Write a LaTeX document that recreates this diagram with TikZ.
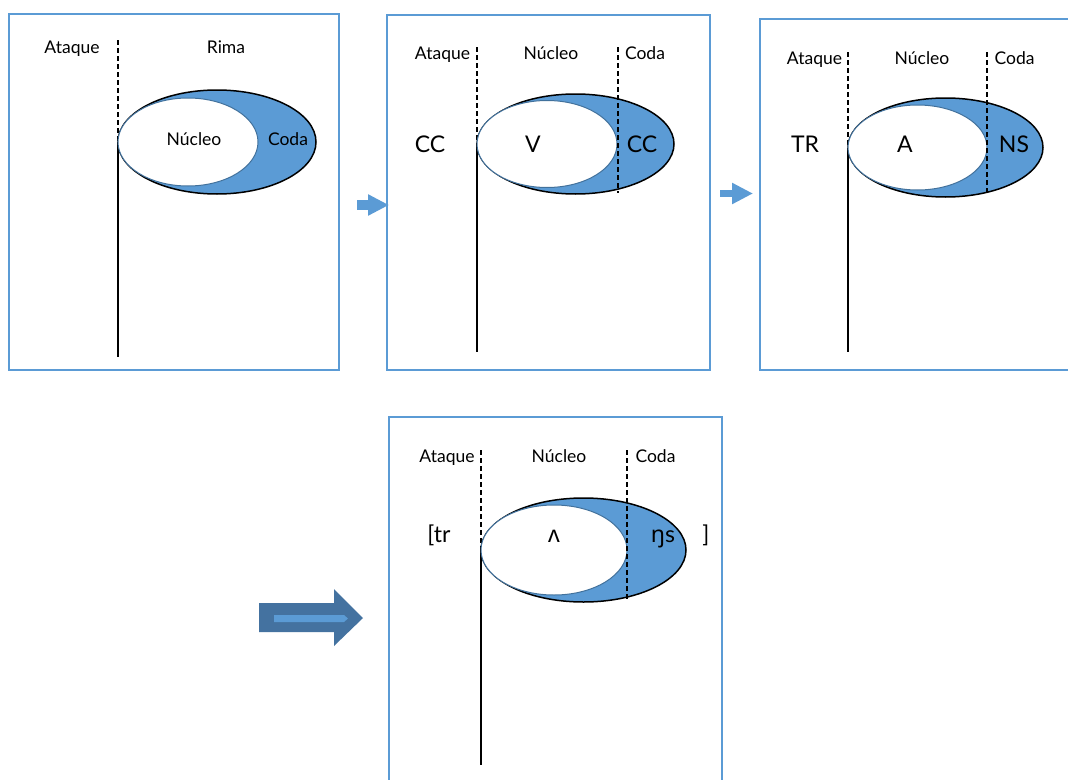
\documentclass[tikz,border=0pt]{standalone}
\usepackage{fontspec}
\setmainfont{Lato}
\newfontfamily\ipafont{Noto Sans}
\usetikzlibrary{arrows.meta}
\definecolor{frameblue}{RGB}{91,155,213}
\definecolor{codafill}{RGB}{91,155,213}
\definecolor{nucedge}{RGB}{65,113,156}
\definecolor{bigblue}{RGB}{68,114,160}
\tikzset{
  panel/.style={draw=frameblue, line width=2pt, fill=white, inner sep=0pt},
  lbl/.style={font=\fontsize{17.5}{20}\selectfont, inner sep=0pt, anchor=base},
  seg/.style={font=\fontsize{23}{26}\selectfont, inner sep=0pt, anchor=base},
  tier/.style={line width=1.3pt, black},
  tierdash/.style={line width=1.3pt, black, dash pattern=on 5pt off 3pt},
  rima/.style={draw=black, line width=1.5pt, fill=codafill},
  nucleo/.style={draw=nucedge, line width=1pt, fill=white},
  stepshaft/.style={draw=frameblue, -{Triangle[length=21pt,width=20pt]}},
}
\begin{document}
\begin{tikzpicture}[x=1pt,y=-1pt]
\clip (0,0) rectangle (1068,779);
\fill[white] (0,0) rectangle (1068,779);

% ---------- panel frames ----------
\node[panel, minimum width=330pt, minimum height=356pt] (p1) at (174,192) {};
\node[panel, minimum width=323pt, minimum height=355pt] (p2) at (548.5,192.5) {};
\node[panel, minimum width=335pt, minimum height=351pt] (p3) at (927.5,194.5) {};
\node[panel, minimum width=333pt, minimum height=383pt] (p4) at (555.5,608.5) {};

% ---------- panel 1: Ataque / Rima ----------
\coordinate (t1) at (118,40);
\coordinate (m1) at (118,142);
\coordinate (b1) at (118,357);
\draw[tierdash] (t1) -- (m1);
\draw[tier] (m1) -- (b1);
\coordinate (o1) at (217,142);
\coordinate (i1) at (188,142);
\draw[rima] (o1) ellipse [x radius=99, y radius=52];
\draw[nucleo] (i1) ellipse [x radius=70, y radius=44];
\node[lbl] (ata1) at (72,53) {Ataque};
\node[lbl] (rim1) at (226,53) {Rima};
\node[lbl] (nuc1) at (194,145.5) {Núcleo};
\node[lbl] (cod1) at (288,145.5) {Coda};

% ---------- panel 2: CC V CC ----------
\coordinate (t2) at (477,47);
\coordinate (m2) at (477,144);
\coordinate (b2) at (477,352);
\draw[tierdash] (t2) -- (m2);
\draw[tier] (m2) -- (b2);
\coordinate (o2) at (575.5,144);
\coordinate (i2) at (547,144);
\draw[rima] (o2) ellipse [x radius=98.5, y radius=50];
\draw[nucleo] (i2) ellipse [x radius=70, y radius=43.5];
\coordinate (ct2) at (618,47);
\coordinate (cb2) at (618,193);
\draw[tierdash] (ct2) -- (cb2);
\node[lbl] (ata2) at (442.5,59) {Ataque};
\node[lbl] (nuc2) at (551,59) {Núcleo};
\node[lbl] (cod2) at (645,59) {Coda};
\node[seg] (s2a) at (430,152) {CC};
\node[seg] (s2b) at (533,152) {V};
\node[seg] (s2c) at (642,152) {CC};

% ---------- panel 3: TR A NS ----------
\coordinate (t3) at (848,52);
\coordinate (m3) at (848,147.5);
\coordinate (b3) at (848,352);
\draw[tierdash] (t3) -- (m3);
\draw[tier] (m3) -- (b3);
\coordinate (o3) at (945.5,147.5);
\coordinate (i3) at (917.5,147.5);
\draw[rima] (o3) ellipse [x radius=97.5, y radius=49.5];
\draw[nucleo] (i3) ellipse [x radius=69.5, y radius=42.5];
\coordinate (ct3) at (987,52);
\coordinate (cb3) at (987,195);
\draw[tierdash] (ct3) -- (cb3);
\node[lbl] (ata3) at (814.5,64) {Ataque};
\node[lbl] (nuc3) at (922,64) {Núcleo};
\node[lbl] (cod3) at (1014.5,64) {Coda};
\node[seg] (s3a) at (805,152) {TR};
\node[seg] (s3b) at (905,152) {A};
\node[seg] (s3c) at (1014,152) {NS};

% ---------- panel 4: [trʌŋs] ----------
\coordinate (t4) at (481,450);
\coordinate (m4) at (481,550);
\coordinate (b4) at (481,765);
\draw[tierdash] (t4) -- (m4);
\draw[tier] (m4) -- (b4);
\coordinate (o4) at (583.5,550);
\coordinate (i4) at (554,550);
\draw[rima] (o4) ellipse [x radius=102.5, y radius=52];
\draw[nucleo] (i4) ellipse [x radius=73, y radius=45];
\coordinate (ct4) at (627,450);
\coordinate (cb4) at (627,600);
\draw[tierdash] (ct4) -- (cb4);
\node[lbl] (ata4) at (447,462) {Ataque};
\node[lbl] (nuc4) at (559,462) {Núcleo};
\node[lbl] (cod4) at (655.5,462) {Coda};
\node[seg] (s4a) at (439,542) {[tr};
\node[seg] (s4b) at (554,542) {\ipafont ʌ};
\node[seg] (s4c) at (663,542) {{\ipafont ŋ}s};
\node[seg] (s4d) at (706,542) {]};

% ---------- arrows between panels ----------
\coordinate (a1s) at (357,205);
\coordinate (a1e) at (389,205);
\draw[stepshaft, line width=10pt] (a1s) -- (a1e);
\coordinate (a2s) at (720,193.5);
\coordinate (a2e) at (753,193.5);
\draw[stepshaft, line width=7pt] (a2s) -- (a2e);

% big block arrow leading to the last panel
\fill[bigblue] (259,603) -- (334,603) -- (334,589) -- (363,618)
  -- (334,646) -- (334,632) -- (259,632) -- cycle;
\fill[frameblue] (274,615) -- (344,615) -- (348,618.5) -- (344,622)
  -- (274,622) -- cycle;
\end{tikzpicture}
\end{document}
